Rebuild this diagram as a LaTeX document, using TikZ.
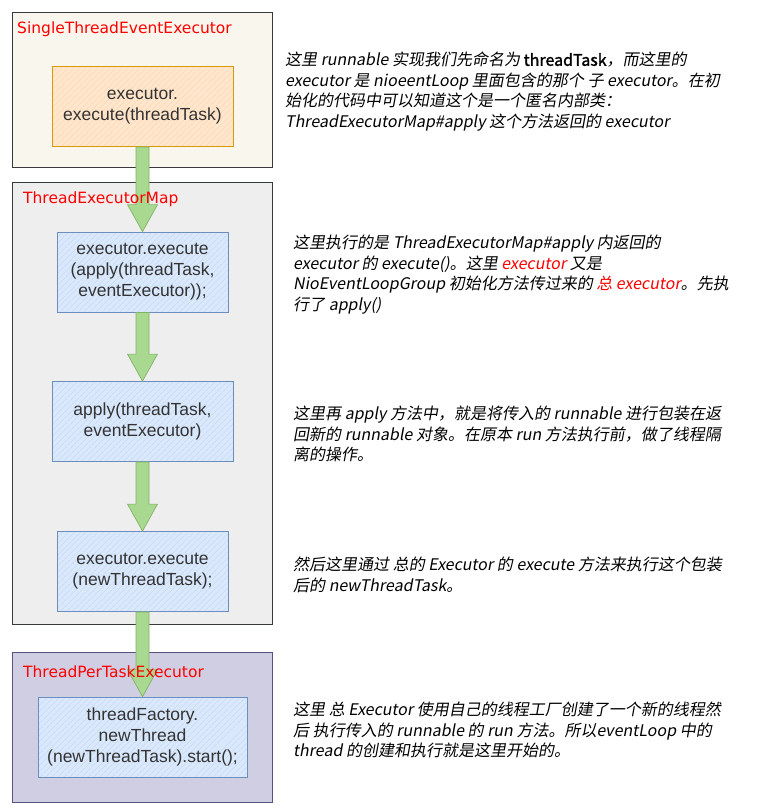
\documentclass[tikz,border=0pt]{standalone}
\usepackage{fontspec}
\setmainfont{Liberation Sans}
\newfontfamily\lblfont{DejaVu Sans}
\newfontfamily\cjk[FakeSlant=0.18]{Noto Sans CJK SC}
\newfontfamily\cjkb[FakeBold=1.6]{Noto Sans CJK SC}
\usetikzlibrary{calc,patterns.meta}
\definecolor{txt}{HTML}{333333}
\definecolor{c1fill}{HTML}{F9F7ED}
\definecolor{c2fill}{HTML}{EEEEEE}
\definecolor{c3fill}{HTML}{D0CEE2}
\definecolor{c3line}{HTML}{56517E}
\definecolor{cline}{HTML}{36393D}
\definecolor{ofill}{HTML}{FFE6CC}
\definecolor{oline}{HTML}{D79B00}
\definecolor{ohatch}{HTML}{FBD3A8}
\definecolor{bfill}{HTML}{DAE8FC}
\definecolor{bline}{HTML}{6C8EBF}
\definecolor{bhatch}{HTML}{C2D5F0}
\definecolor{gfill}{HTML}{A9D890}
\definecolor{gline}{HTML}{82B366}
\definecolor{lbl}{HTML}{FF0000}
\newcommand{\rd}[1]{\textcolor{lbl}{#1}}
\tikzset{
  container/.style={draw=cline, line width=0.8pt, minimum width=260, minimum height=#1, inner sep=0, anchor=north west},
  codebox/.style={line width=0.8pt, minimum width=#1, minimum height=80, inner sep=2, align=center,
     font=\fontsize{17.5}{21}\selectfont, text=txt},
  obox/.style={codebox=#1, draw=oline, preaction={fill=ofill}, preaction={pattern={Lines[angle=45,distance=4pt,line width=0.5pt]}, pattern color=ohatch}},
  bbox/.style={codebox=#1, draw=bline, preaction={fill=bfill}, preaction={pattern={Lines[angle=45,distance=4pt,line width=0.5pt]}, pattern color=bhatch}},
  garrow/.style={fill=gfill, draw=gline, line width=0.7pt, line join=miter},
  boxlabel/.style={anchor=west, text=lbl, font=\lblfont\fontsize{15.5}{18}\selectfont, inner sep=0},
  note/.style={anchor=north west, align=left, inner sep=0, text=black, font=\cjk\fontsize{16}{20.5}\selectfont},
}
\newcommand{\blockarr}[2]{%
  \path[garrow] ($(#1.south)+(-6.5,0)$) -- ($(#2.north)+(-6.5,-27)$) -- ($(#2.north)+(-15,-27)$) -- (#2.north)
    -- ($(#2.north)+(15,-27)$) -- ($(#2.north)+(6.5,-27)$) -- ($(#1.south)+(6.5,0)$) -- cycle;}
\begin{document}
\begin{tikzpicture}[x=1pt,y=-1pt]
\useasboundingbox (0,0) rectangle (771,811);
\fill[white] (0,0) rectangle (771,811);
% containers
\node[container=155, fill=c1fill] (ste) at (12,12) {};
\node[container=442, fill=c2fill] (tem) at (12,182) {};
\node[container=150, fill=c3fill, draw=c3line] (ptp) at (12,652) {};
% boxes
\node[obox=181] (b0) at (142.5,106.5) {executor.\\execute(threadTask)};
\node[bbox=171] (b1) at (142.5,272) {executor.execute\\(apply(threadTask,\\eventExecutor));};
\node[bbox=181] (b2) at (142.5,421.5) {apply(threadTask,\\eventExecutor)};
\node[bbox=171] (b3) at (142.5,571.5) {executor.execute\\(newThreadTask);};
\node[bbox=209] (b4) at (142.5,737) {threadFactory.\\newThread\\(newThreadTask).start();};
% arrows
\blockarr{b0}{b1}
\blockarr{b1}{b2}
\blockarr{b2}{b3}
\blockarr{b3}{b4}
% labels
\node[boxlabel] (l0) at (17,29) {SingleThreadEventExecutor};
\node[boxlabel] (l1) at (23,199) {ThreadExecutorMap};
\node[boxlabel] (l2) at (23,672) {ThreadPerTaskExecutor};
% notes
\node[note] (n1) at (285,52) {这里 runnable 实现我们先命名为 {\cjkb threadTask}，而这里的\\
executor 是 nioeentLoop 里面包含的那个 子 executor。在初\\
始化的代码中可以知道这个是一个匿名内部类：\\
ThreadExecutorMap\#apply 这个方法返回的 executor};
\node[note] (n2) at (293,235) {这里执行的是 ThreadExecutorMap\#apply 内返回的\\
executor 的 execute()。这里 \rd{executor} 又是\\
NioEventLoopGroup 初始化方法传过来的 \rd{总 executor}。先执\\
行了 apply()};
\node[note] (n3) at (293,406) {这里再 apply 方法中，就是将传入的 runnable 进行包装在返\\
回新的 runnable 对象。在原本 run 方法执行前，做了线程隔\\
离的操作。};
\node[note] (n4) at (293,557) {然后这里通过 总的 Executor 的 execute 方法来执行这个包装\\
后的 newThreadTask。};
\node[note] (n5) at (293,702) {这里 总 Executor 使用自己的线程工厂创建了一个新的线程然\\
后 执行传入的 runnable 的 run 方法。所以eventLoop 中的\\
thread 的创建和执行就是这里开始的。};
\end{tikzpicture}
\end{document}
